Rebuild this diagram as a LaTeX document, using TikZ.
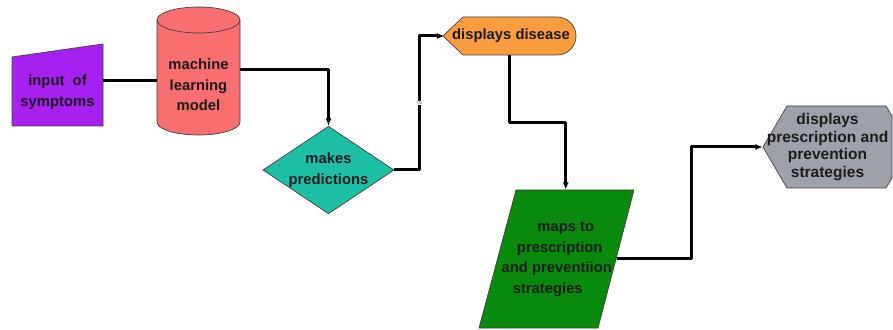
\documentclass[tikz,border=0pt]{standalone}
\usepackage{fontspec}
\setmainfont{Liberation Sans}
\usetikzlibrary{arrows.meta,calc,shapes.geometric}
\definecolor{symPurple}{HTML}{A620F0}
\definecolor{mlRed}{HTML}{F96E6E}
\definecolor{predTeal}{HTML}{1DBFA6}
\definecolor{disOrange}{HTML}{F99D3E}
\definecolor{mapGreen}{HTML}{0A8A0C}
\definecolor{rxGray}{HTML}{9CA1AA}
\definecolor{inkDark}{HTML}{1C1C1C}
\tikzset{
  >={Latex[length=7.5pt,width=6pt]},
  every node/.style={font=\fontsize{14.8}{20.5}\selectfont\bfseries, text=inkDark},
  shapeline/.style={draw=black!75, line width=0.7pt},
  boxtext/.style={align=center, inner sep=0pt},
  flow/.style={->, line width=3pt, draw=black, line join=round},
  edgetag/.style={font=\fontsize{4.5}{4.5}\selectfont, fill=white, text=black!55, inner sep=0.6pt},
}

\begin{document}
\begin{tikzpicture}[x=1pt,y=1pt]
  \useasboundingbox (0,0) rectangle (893,329);
  % input of symptoms
  \filldraw[shapeline, fill=symPurple] (12,203) -- (103,203) -- (103,285) -- (12,272) -- cycle;
  \node[boxtext, minimum width=91pt] (inp) at (57.5,237) {input\ \ of\\symptoms};

  % model cylinder
  \filldraw[shapeline, fill=mlRed] (157,309) -- (157,207)
    arc[start angle=180, end angle=360, x radius=41.5pt, y radius=13pt] -- (240,309)
    arc[start angle=0, end angle=180, x radius=41.5pt, y radius=13pt] -- cycle;
  \draw[shapeline] (157,309) arc[start angle=180, end angle=360, x radius=41.5pt, y radius=13pt];
  \node[boxtext, minimum width=83pt] (ml) at (198.5,244) {machine\\learning\\model};

  % decision
  \node[diamond, shapeline, fill=predTeal, aspect=1.5, minimum width=127pt, minimum height=85pt,
    boxtext] (pred) at (328.5,159) {makes\\predictions};

  % displays disease
  \filldraw[shapeline, fill=disOrange] (443,293) -- (463,312) -- (557,312)
    arc[start angle=90, end angle=-90, radius=19pt] -- (463,274) -- cycle;
  \node[boxtext, minimum width=133pt, minimum height=38pt] (dis) at (511,293) {displays disease};

  % maps to strategies
  \filldraw[shapeline, fill=mapGreen] (479,1) -- (598,1) -- (634,139) -- (516,139) -- cycle;
  \node[boxtext, minimum width=120pt, minimum height=138pt] (maps) at (556.75,70)
    {\hspace*{18pt}maps to\\\hspace*{6pt}prescription\\and preventiion\hspace*{4pt}\\strategies\hspace*{18pt}};

  % displays prescription
  \filldraw[shapeline, fill=rxGray] (763,182) -- (787,223) -- (886,223) -- (892,213)
    -- (892,151) -- (886,141) -- (787,141) -- cycle;
  \node[boxtext, minimum width=129pt, font=\fontsize{15.5}{17.5}\selectfont\bfseries] (rx) at (827.5,182)
    {displays\\prescription and\\prevention\\strategies};

  % connectors
  \draw[flow, -] ([yshift=11pt]inp.east) -- ([yshift=11pt]inp.east -| ml.west);
  \draw[flow] ([yshift=15pt]ml.east) -| (pred.north);
  \draw[flow] (pred.east) -- ++(25,0) |- node[edgetag, pos=0.25] (notag) {No} (dis.west);
  \draw[flow] ([xshift=-2pt]dis.south) -- ++(0,-67) -| ([xshift=9pt]maps.north);
  \draw[flow] (maps.east) -- ++(75,0) |- (rx.west);
\end{tikzpicture}
\end{document}
